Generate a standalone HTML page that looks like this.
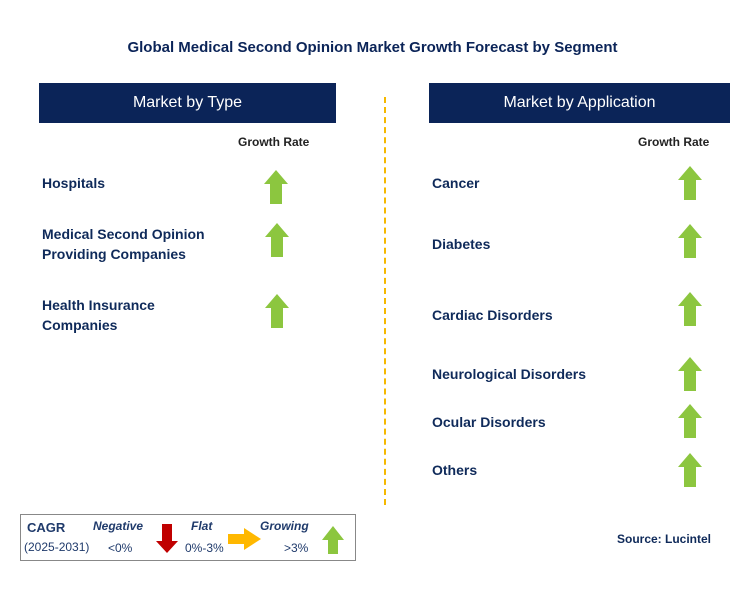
<!DOCTYPE html>
<html><head><style>
body{margin:0;width:745px;height:611px;background:#fff;position:relative;font-family:"Liberation Sans",sans-serif;overflow:hidden}
.a{position:absolute}
.t{position:absolute;color:#0f2a5a;font-weight:bold;font-size:14px;line-height:20px}
.h{position:absolute;background:#0b2458;color:#fff;font-size:16px;text-align:center;line-height:40px;height:40px;top:83px}
.g{position:absolute;font-size:12px;font-weight:bold;color:#222}
</style></head><body>
<div class="t" style="left:0;width:745px;text-align:center;top:38px;font-size:15px;color:#0b2458">Global Medical Second Opinion Market Growth Forecast by Segment</div>
<div class="h" style="left:39px;width:297px">Market by Type</div>
<div class="h" style="left:429px;width:301px">Market by Application</div>
<div class="g" style="left:238px;top:135px">Growth Rate</div>
<div class="g" style="left:638px;top:135px">Growth Rate</div>
<div class="a" style="left:384px;top:97px;height:408px;border-left:2px dashed #f5b800"></div>
<div class="t" style="left:42px;top:173px">Hospitals</div>
<div class="t" style="left:42px;top:224px">Medical Second Opinion<br>Providing Companies</div>
<div class="t" style="left:42px;top:295px">Health Insurance<br>Companies</div>
<div class="t" style="left:432px;top:173px">Cancer</div>
<div class="t" style="left:432px;top:234px">Diabetes</div>
<div class="t" style="left:432px;top:305px">Cardiac Disorders</div>
<div class="t" style="left:432px;top:364px">Neurological Disorders</div>
<div class="t" style="left:432px;top:412px">Ocular Disorders</div>
<div class="t" style="left:432px;top:460px">Others</div>
<svg class="a" style="left:0;top:0" width="745" height="611">
<defs><polygon id="up" points="0,14 12,0 24,14 18,14 18,34 6,34 6,14" fill="#8cc63f"/></defs>
<use href="#up" x="264" y="170"/><use href="#up" x="265" y="223"/><use href="#up" x="265" y="294"/>
<use href="#up" x="678" y="166"/><use href="#up" x="678" y="224"/><use href="#up" x="678" y="292"/>
<use href="#up" x="678" y="357"/><use href="#up" x="678" y="404"/><use href="#up" x="678" y="453"/>
<rect x="20.5" y="514.5" width="335" height="46" fill="none" stroke="#888"/>
<polygon points="162,524 172,524 172,541 178,541 167,553 156,541 162,541" fill="#c00000"/>
<polygon points="228,534 244,534 244,528 261,539 244,550 244,544 228,544" fill="#ffb800"/>
<polygon points="322,540 333,526 344,540 338,540 338,554 328,554 328,540" fill="#8cc63f"/>
</svg>
<div class="a" style="left:27px;top:520px;font-size:13px;font-weight:bold;color:#1f3a6b">CAGR</div>
<div class="a" style="left:24px;top:540px;font-size:12px;color:#1f3a6b">(2025-2031)</div>
<div class="a" style="left:93px;top:519px;font-size:12px;font-weight:bold;font-style:italic;color:#1f3a6b">Negative</div>
<div class="a" style="left:108px;top:541px;font-size:12px;color:#1f3a6b">&lt;0%</div>
<div class="a" style="left:191px;top:519px;font-size:12px;font-weight:bold;font-style:italic;color:#1f3a6b">Flat</div>
<div class="a" style="left:185px;top:541px;font-size:12px;color:#1f3a6b">0%-3%</div>
<div class="a" style="left:260px;top:519px;font-size:12px;font-weight:bold;font-style:italic;color:#1f3a6b">Growing</div>
<div class="a" style="left:284px;top:541px;font-size:12px;color:#1f3a6b">&gt;3%</div>
<div class="a" style="left:617px;top:532px;font-size:12px;font-weight:bold;color:#0f2a5a">Source: Lucintel</div>
</body></html>
